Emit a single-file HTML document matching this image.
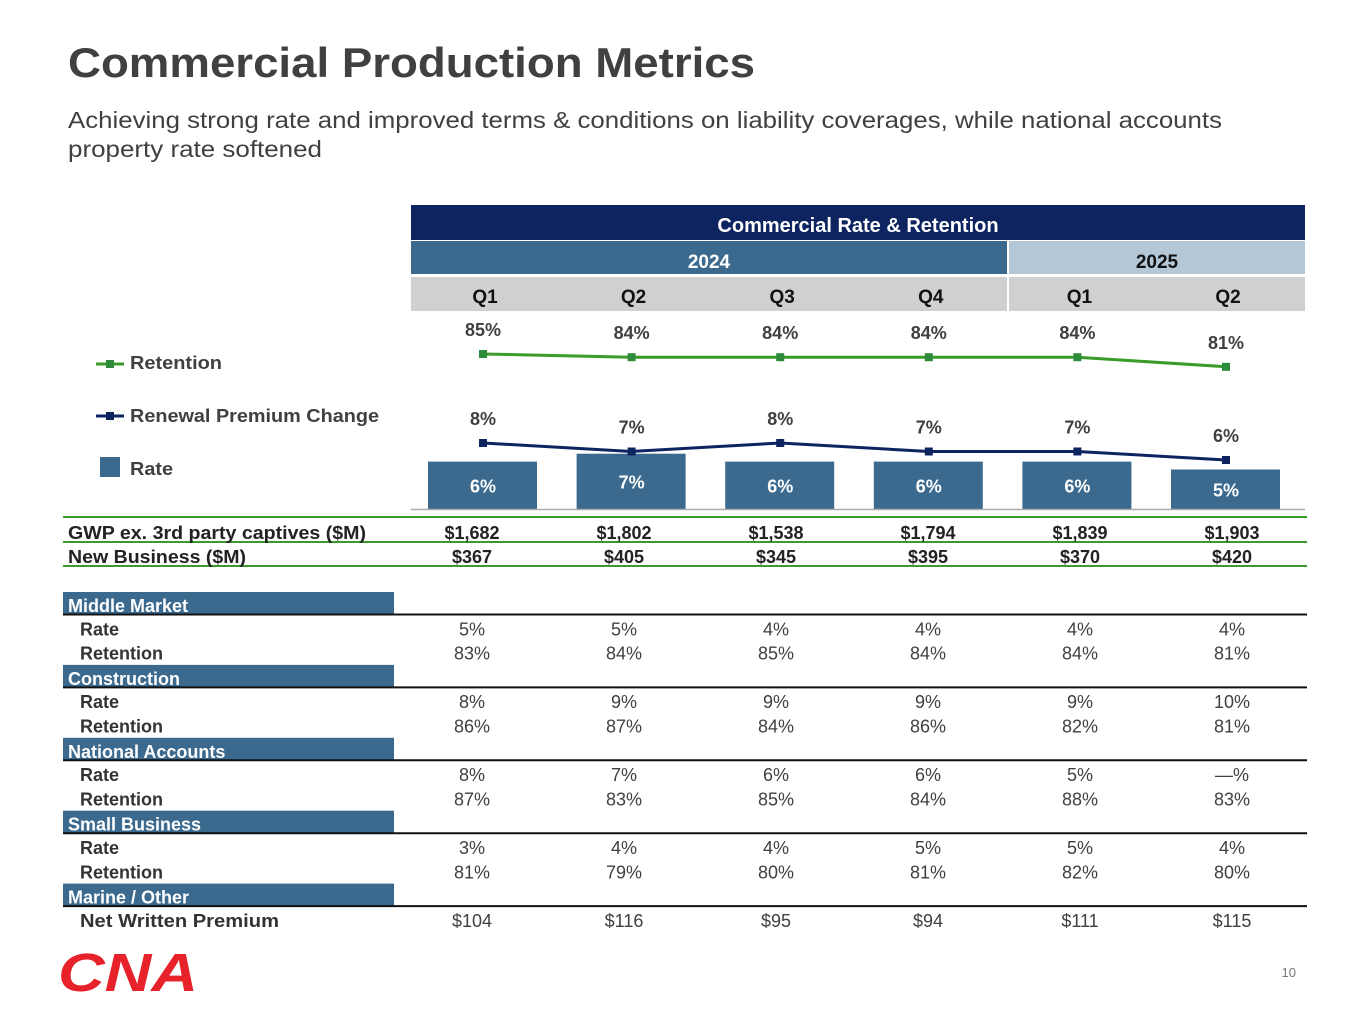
<!DOCTYPE html>
<html><head><meta charset="utf-8"><style>
body{margin:0;background:#fff;}
svg{display:block;font-family:"Liberation Sans",sans-serif;}
</style></head><body>
<svg id="s" width="1365" height="1024" viewBox="0 0 1365 1024">
<text x="68" y="77" font-size="42" font-weight="bold" fill="#404040" textLength="687" lengthAdjust="spacingAndGlyphs">Commercial Production Metrics</text>
<text x="68" y="128" font-size="23" fill="#404040" textLength="1154" lengthAdjust="spacingAndGlyphs">Achieving strong rate and improved terms &amp; conditions on liability coverages, while national accounts</text>
<text x="68" y="157" font-size="23" fill="#404040" textLength="254" lengthAdjust="spacingAndGlyphs">property rate softened</text>

<rect x="411" y="205" width="894" height="35" fill="#0d2461"/>
<text x="858" y="232" font-size="20" font-weight="bold" fill="#fff" text-anchor="middle">Commercial Rate &amp; Retention</text>
<rect x="411" y="241" width="596" height="33" fill="#3b6a8e"/>
<rect x="1009" y="241" width="296" height="33" fill="#b4c7d7"/>
<text x="709" y="268" font-size="19" font-weight="bold" fill="#fff" text-anchor="middle">2024</text>
<text x="1157" y="268" font-size="19" font-weight="bold" fill="#111" text-anchor="middle">2025</text>
<rect x="411" y="277" width="596" height="34" fill="#d0d0d0"/>
<rect x="1009" y="277" width="296" height="34" fill="#d0d0d0"/>
<g id="qlabels"></g>

<g>
<line x1="96" y1="364" x2="124" y2="364" stroke="#3a9a2a" stroke-width="3"/><rect x="106" y="360" width="8" height="8" fill="#2e8b3a"/>
<text x="130" y="369" font-size="18" font-weight="bold" fill="#404040" textLength="92" lengthAdjust="spacingAndGlyphs">Retention</text>
<line x1="96" y1="416" x2="124" y2="416" stroke="#0d2461" stroke-width="3"/><rect x="106" y="412" width="8" height="8" fill="#0d2461"/>
<text x="130" y="422" font-size="18" font-weight="bold" fill="#404040" textLength="249" lengthAdjust="spacingAndGlyphs">Renewal Premium Change</text>
<rect x="100" y="457" width="20" height="20" fill="#3b6a8e"/>
<text x="130" y="475" font-size="18" font-weight="bold" fill="#404040" textLength="43" lengthAdjust="spacingAndGlyphs">Rate</text>
</g>
<g id="chart"></g>
<line x1="411" y1="509.5" x2="1305" y2="509.5" stroke="#aaa" stroke-width="1.5"/>
<g id="table"></g>

<g>
<text x="58" y="991" font-size="54" font-weight="bold" font-style="italic" fill="#e8222a" textLength="140" lengthAdjust="spacingAndGlyphs">CNA</text>
</g>
<text x="1296" y="977" font-size="13" fill="#777" text-anchor="end">10</text>
</svg>
<script>
const quarters=["Q1","Q2","Q3","Q4","Q1","Q2"];
const rateValues=[6,7,6,6,6,5];
const renewalValues=[8,7,8,7,7,6];
const retentionValues=[85,84,84,84,84,81];
const gwpLabels=["$1,682","$1,802","$1,538","$1,794","$1,839","$1,903"];
const newBizLabels=["$367","$405","$345","$395","$370","$420"];
const NS="http://www.w3.org/2000/svg";
function mk(t,a,p){const e=document.createElementNS(NS,t);for(const k in a)e.setAttribute(k,a[k]);p.appendChild(e);return e;}
function xc(i){return 483+i*148.6;}
function yRate(v){return 509-v*7.9;}
function yRen(v){return 511-v*8.5;}
function yRet(v){return 354+(85-v)*3.2;}
const ql=document.getElementById('qlabels');
quarters.forEach((q,i)=>{const t=mk('text',{x:xc(i)+2,y:303,'font-size':19,'font-weight':'bold',fill:'#111','text-anchor':'middle'},ql);t.textContent=q;

});
const ch=document.getElementById('chart');
rateValues.forEach((v,i)=>{const r=mk('rect',{x:xc(i)-55,y:yRate(v),width:109,height:509-yRate(v),fill:'#3b6a8e'},ch);


const t=mk('text',{x:xc(i),y:(yRate(v)+509)/2+7,'font-size':18,'font-weight':'bold',fill:'#fff','text-anchor':'middle'},ch);t.textContent=v+'%';

});
function line(vals,yf,col,mcol,name){
 const p=mk('polyline',{points:vals.map((v,i)=>xc(i)+','+yf(v)).join(' '),fill:'none',stroke:col,'stroke-width':3},ch);
 
 
 vals.forEach((v,i)=>{const m=mk('rect',{x:xc(i)-4,y:yf(v)-4,width:8,height:8,fill:mcol},ch);
 
 
 const t=mk('text',{x:xc(i),y:yf(v)-18,'font-size':18,'font-weight':'bold',fill:'#404040','text-anchor':'middle'},ch);t.textContent=v+'%';
 
 });
}
line(retentionValues,yRet,'#3a9a2a','#2e8b3a','retention');
line(renewalValues,yRen,'#0d2461','#0d2461','renewal');

const tb=document.getElementById('table');
const vx=[472,624,776,928,1080,1232];
function txt(x,y,s,o,name){const t=mk('text',Object.assign({x:x,y:y,'font-size':18,fill:'#404040'},o||{}),tb);t.textContent=s;

return t;}
[517,542,566].forEach(y=>{const l=mk('line',{x1:63,y1:y,x2:1307,y2:y,stroke:'#3a9a2a','stroke-width':2},tb);

});
txt(68,539,'GWP ex. 3rd party captives ($M)',{'font-weight':'bold',fill:'#222',textLength:298,lengthAdjust:'spacingAndGlyphs'},'gwp-label');
txt(68,563,'New Business ($M)',{'font-weight':'bold',fill:'#222',textLength:178,lengthAdjust:'spacingAndGlyphs'},'new-business-label');
gwpLabels.forEach((s,i)=>txt(vx[i],539,s,{'font-weight':'bold','text-anchor':'middle',fill:'#222'},'gwp-value'));
newBizLabels.forEach((s,i)=>txt(vx[i],563,s,{'font-weight':'bold','text-anchor':'middle',fill:'#222'},'new-business-value'));
const sections=[
 ["Middle Market",[["Rate",["5%","5%","4%","4%","4%","4%"]],["Retention",["83%","84%","85%","84%","84%","81%"]]]],
 ["Construction",[["Rate",["8%","9%","9%","9%","9%","10%"]],["Retention",["86%","87%","84%","86%","82%","81%"]]]],
 ["National Accounts",[["Rate",["8%","7%","6%","6%","5%","—%"]],["Retention",["87%","83%","85%","84%","88%","83%"]]]],
 ["Small Business",[["Rate",["3%","4%","4%","5%","5%","4%"]],["Retention",["81%","79%","80%","81%","82%","80%"]]]],
 ["Marine / Other",[["Net Written Premium",["$104","$116","$95","$94","$111","$115"]]]]
];
let y=592;
sections.forEach(s=>{
 const r=mk('rect',{x:63,y:y,width:331,height:23,fill:'#3b6a8e'},tb);
 
 
 const l=mk('line',{x1:63,y1:y+22.5,x2:1307,y2:y+22.5,stroke:'#111','stroke-width':2},tb);
 
 
 txt(68,y+20,s[0],{'font-weight':'bold',fill:'#fff'},'section-header');
 y+=24.3;
 s[1].forEach(row=>{
  const o={'font-weight':'bold',fill:'#333'};
  if(row[0]==='Net Written Premium'){o.textLength=199;o.lengthAdjust='spacingAndGlyphs';}
  txt(80,y+19,row[0],o,'row-label');
  row[1].forEach((v,i)=>txt(vx[i],y+19,v,{'text-anchor':'middle'},'row-value'));
  y+=24.3;
 });
});
</script>
</body></html>
